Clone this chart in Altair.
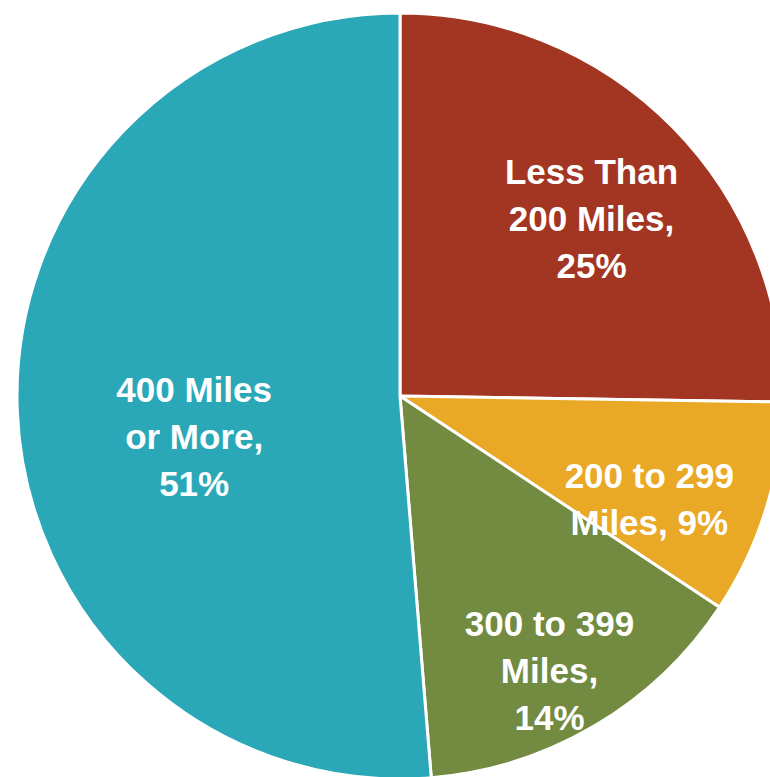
import altair as alt
import pandas as pd

categories = ["Less Than 200 Miles", "200 to 299 Miles", "300 to 399 Miles", "400 Miles or More"]
# slice shares as drawn (percent)
shares = [25.25, 9.05, 14.4, 51.3]
labels = ["Less Than\n200 Miles,\n25%", "200 to 299\nMiles, 9%", "300 to 399\nMiles,\n14%", "400 Miles\nor More,\n51%"]
colors = ["#A33623", "#E9A825", "#728B40", "#2BA8B8"]

df = pd.DataFrame({
    "category": categories,
    "share": shares,
    "label": labels,
    "order": list(range(len(categories))),
})

CX, CY, R = 400, 396, 383
FONT = "Liberation Sans, Arial, sans-serif"

base = alt.Chart(df).encode(
    theta=alt.Theta("share:Q", stack=True),
    order=alt.Order("order:Q"),
    x=alt.value(CX),
    y=alt.value(CY),
)

pie = base.mark_arc(radius=R, stroke="white", strokeWidth=3).encode(
    color=alt.Color("category:N", scale=alt.Scale(domain=categories, range=colors), legend=None)
)

label_params = [
    (categories[0], 294, -18, -17),
    (categories[1], 262, -1, 4),
    (categories[2], 274, 10, -7),
    (categories[3], 206, 0, -13),
]

layers = [pie]
for cat, rad, dx, dy in label_params:
    layers.append(
        base.mark_text(
            radius=rad, dx=dx, dy=dy, lineBreak="\n", font=FONT, fontSize=35,
            fontWeight="bold", color="white", align="center", baseline="middle", lineHeight=47,
        ).encode(
            text=alt.condition(alt.datum.category == cat, "label:N", alt.value(""))
        )
    )

chart = alt.layer(*layers).properties(
    width=770, height=777, padding=0, autosize=alt.AutoSizeParams(type="none")
).configure_view(stroke=None)

chart.save("out.html", embed_options={"renderer": "svg", "actions": False})
